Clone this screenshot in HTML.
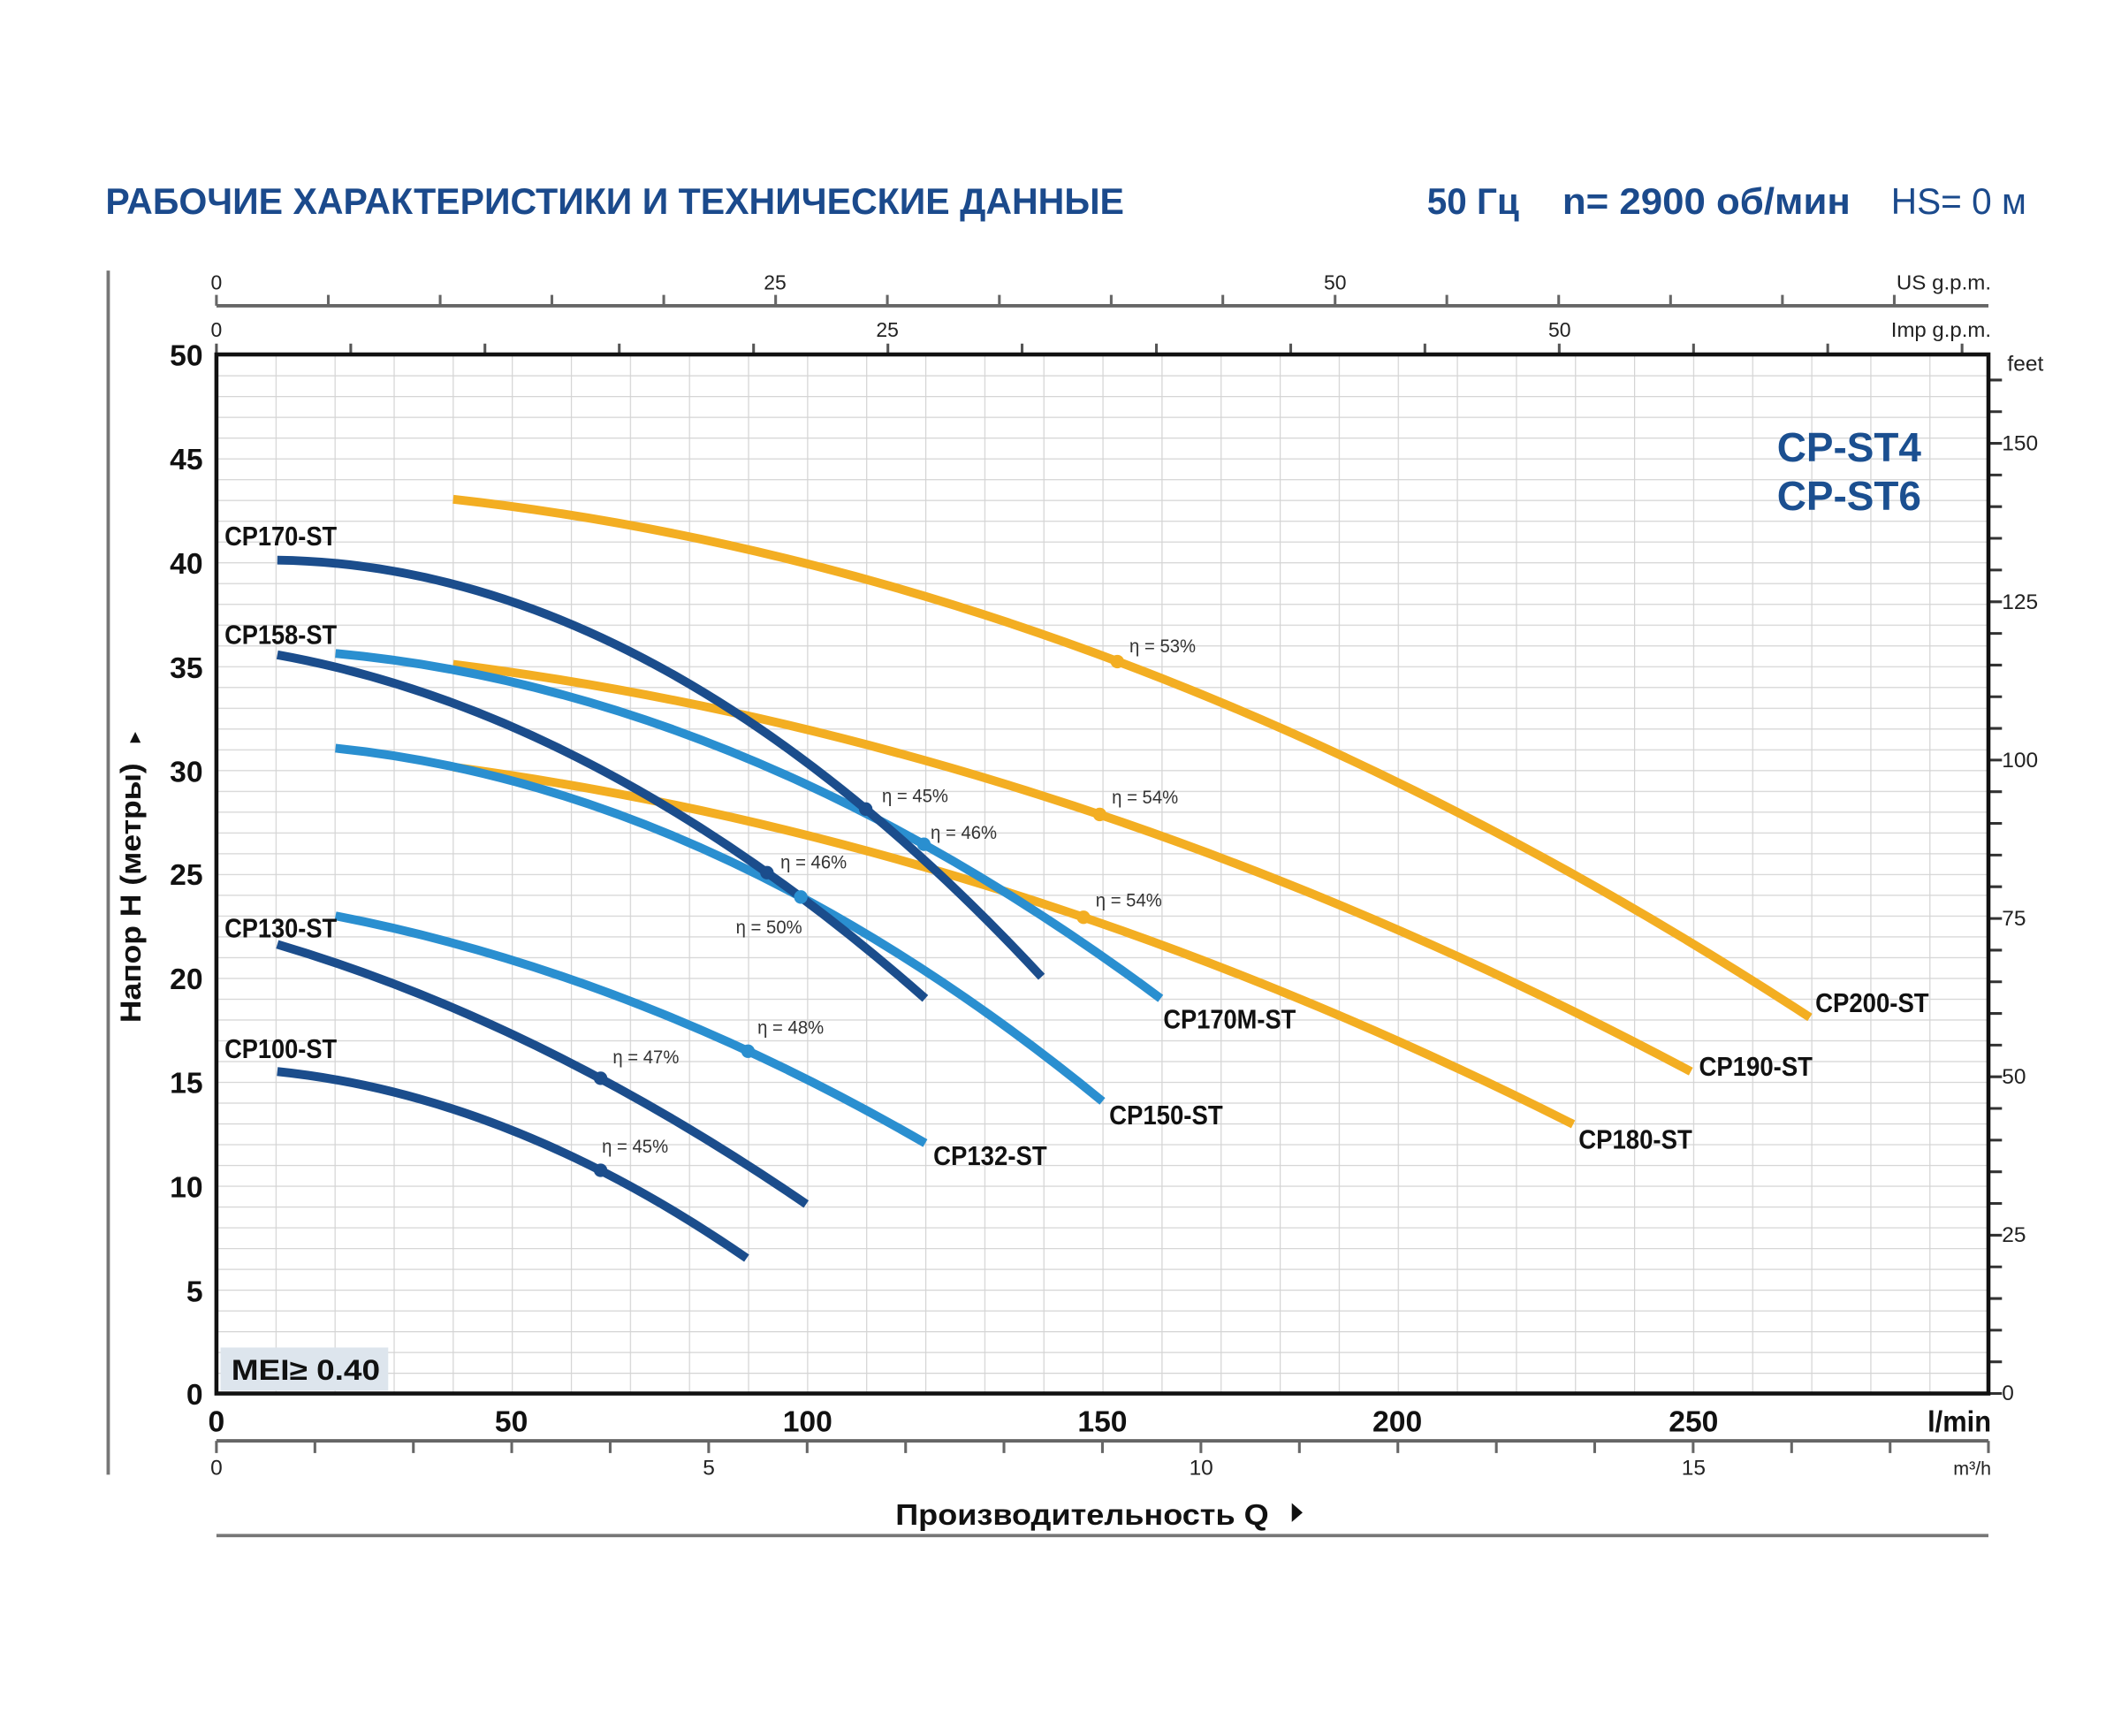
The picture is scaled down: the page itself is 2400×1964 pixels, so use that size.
<!DOCTYPE html>
<html><head><meta charset="utf-8"><style>
html,body{margin:0;padding:0;background:#fff}
svg{display:block}
text{font-family:"Liberation Sans",sans-serif}
.n{font-family:"Liberation Sans Narrow","Liberation Sans",sans-serif}
</style></head><body>
<svg width="2400" height="1964" viewBox="0 0 1568 1283.15" xmlns="http://www.w3.org/2000/svg">
<defs>
<pattern id="g" patternUnits="userSpaceOnUse" x="160" y="262" width="43.667" height="15.36">
<path d="M0 0V15.36M0 0H43.667" stroke="#d4d4d4" stroke-width="1.6" fill="none"/>
</pattern>
</defs>
<rect width="1568" height="1284" fill="#fff"/>
<!-- header -->
<text x="78" y="158" font-size="27" font-weight="bold" fill="#1b4a8c" textLength="753" lengthAdjust="spacingAndGlyphs">РАБОЧИЕ ХАРАКТЕРИСТИКИ И ТЕХНИЧЕСКИЕ ДАННЫЕ</text>
<text x="1055" y="158" font-size="27" font-weight="bold" fill="#1b4a8c" textLength="68" lengthAdjust="spacingAndGlyphs">50 Гц</text>
<text x="1155" y="158" font-size="27" font-weight="bold" fill="#1b4a8c" textLength="213" lengthAdjust="spacingAndGlyphs">n= 2900 об/мин</text>
<text x="1398" y="158" font-size="27" fill="#1b4a8c" textLength="100" lengthAdjust="spacingAndGlyphs">HS= 0 м</text>
<!-- left line -->
<line x1="80" y1="200" x2="80" y2="1090" stroke="#777" stroke-width="2.5"/>
<!-- grid -->
<rect x="160" y="262" width="1310" height="768" fill="url(#g)"/>
<!-- MEI -->
<rect x="163" y="996" width="124" height="32" fill="#dde5ed"/>
<text x="171" y="1020" font-size="21" font-weight="bold" fill="#111" textLength="110" lengthAdjust="spacingAndGlyphs">MEI≥ 0.40</text>
<!-- top axes -->
<path d="M160 226H1470" stroke="#666" stroke-width="2.5"/>
<path d="M160 226v-8M242.7 226v-8M325.4 226v-8M408 226v-8M490.7 226v-8M573.4 226v-8M656 226v-8M738.8 226v-8M821.5 226v-8M904 226v-8M987 226v-8M1069.6 226v-8M1152.3 226v-8M1235 226v-8M1317.7 226v-8M1400.4 226v-8" stroke="#666" stroke-width="2"/>
<g font-size="15" fill="#222" text-anchor="middle">
<text x="160" y="214">0</text><text x="573" y="214">25</text><text x="987" y="214">50</text>
<text x="160" y="249">0</text><text x="656" y="249">25</text><text x="1153" y="249">50</text>
</g>
<text x="1402" y="214" font-size="15" fill="#222" textLength="70" lengthAdjust="spacingAndGlyphs">US g.p.m.</text>
<text x="1398" y="249" font-size="15" fill="#222" textLength="74" lengthAdjust="spacingAndGlyphs">Imp g.p.m.</text>
<path d="M160 262v-8M259.3 262v-8M358.5 262v-8M457.8 262v-8M557.1 262v-8M656.4 262v-8M755.6 262v-8M854.9 262v-8M954.2 262v-8M1053.4 262v-8M1152.7 262v-8M1252 262v-8M1351.2 262v-8M1450.5 262v-8" stroke="#555" stroke-width="2"/>
<!-- right feet ticks -->
<path d="M1470 1030h10M1470 1006.6h10M1470 983.2h10M1470 959.8h10M1470 936.4h10M1470 913h10M1470 889.5h10M1470 866.1h10M1470 842.7h10M1470 819.3h10M1470 795.9h10M1470 772.5h10M1470 749.1h10M1470 725.7h10M1470 702.3h10M1470 678.9h10M1470 655.4h10M1470 632h10M1470 608.6h10M1470 585.2h10M1470 561.8h10M1470 538.4h10M1470 515h10M1470 491.6h10M1470 468.2h10M1470 444.8h10M1470 421.3h10M1470 397.9h10M1470 374.5h10M1470 351.1h10M1470 327.7h10M1470 304.3h10M1470 280.9h10" stroke="#333" stroke-width="2"/>
<g font-size="16" fill="#222">
<text x="1480" y="1035">0</text><text x="1480" y="918">25</text><text x="1480" y="801">50</text><text x="1480" y="684">75</text><text x="1480" y="567">100</text><text x="1480" y="450">125</text><text x="1480" y="333">150</text><text x="1484" y="274">feet</text>
</g>
<!-- bottom m3/h axis -->
<path d="M160 1065H1470" stroke="#666" stroke-width="2.5"/>
<path d="M160 1065v9M232.8 1065v9M305.6 1065v9M378.3 1065v9M451.1 1065v9M523.9 1065v9M596.7 1065v9M669.5 1065v9M742.2 1065v9M815 1065v9M887.8 1065v9M960.6 1065v9M1033.4 1065v9M1106.2 1065v9M1178.9 1065v9M1251.7 1065v9M1324.5 1065v9M1397.3 1065v9M1470 1065v9" stroke="#666" stroke-width="2"/>
<g font-size="16" fill="#222" text-anchor="middle">
<text x="160" y="1090">0</text><text x="524" y="1090">5</text><text x="888" y="1090">10</text><text x="1252" y="1090">15</text>
</g>
<text x="1472" y="1090" font-size="14" fill="#222" text-anchor="end">m³/h</text>
<!-- x labels -->
<g font-size="22" font-weight="bold" fill="#111" text-anchor="middle">
<text x="160" y="1058">0</text><text x="378" y="1058">50</text><text x="597" y="1058">100</text><text x="815" y="1058">150</text><text x="1033" y="1058">200</text><text x="1252" y="1058">250</text>
</g>
<text x="1425" y="1058" font-size="22" font-weight="bold" fill="#111" textLength="47" lengthAdjust="spacingAndGlyphs">l/min</text>
<!-- y labels -->
<g font-size="22" font-weight="bold" fill="#111" text-anchor="end">
<text x="150" y="1038">0</text><text x="150" y="962">5</text><text x="150" y="885">10</text><text x="150" y="808">15</text><text x="150" y="731">20</text><text x="150" y="654">25</text><text x="150" y="578">30</text><text x="150" y="501">35</text><text x="150" y="424">40</text><text x="150" y="347">45</text><text x="150" y="270">50</text>
</g>
<!-- axis titles -->
<text x="662" y="1127" font-size="22" font-weight="bold" fill="#111" textLength="276" lengthAdjust="spacingAndGlyphs">Производительность Q</text>
<path d="M955 1111l8 7-8 7z" fill="#111"/>
<path d="M160 1135H1470" stroke="#777" stroke-width="2.5"/>
<text transform="translate(104 660) rotate(-90)" x="0" y="0" font-size="21" font-weight="bold" fill="#111" text-anchor="middle" textLength="192" lengthAdjust="spacingAndGlyphs">Напор H (метры)</text>
<path d="M96 549h8l-4-8z" fill="#111"/>
<!-- plot frame -->
<rect x="160" y="262" width="1310" height="768" fill="none" stroke="#111" stroke-width="3"/>
<!-- CP-ST -->
<text x="1367" y="341" font-size="30" font-weight="bold" fill="#1b4f90" text-anchor="middle">CP-ST4</text>
<text x="1367" y="377" font-size="30" font-weight="bold" fill="#1b4f90" text-anchor="middle">CP-ST6</text>
<!-- curves -->
<g fill="none" stroke-width="6.5" stroke-linecap="butt">
<path d="M335 369Q836.5 425 1338 752" stroke="#f3ae22"/>
<path d="M335 491Q792.5 549 1250 792" stroke="#f3ae22"/>
<path d="M335 567Q749 622.6 1163 831" stroke="#f3ae22"/>
<path d="M248 483Q553 511 858 738" stroke="#2a8fd0"/>
<path d="M248 553Q531.5 582 815 814" stroke="#2a8fd0"/>
<path d="M248 677Q466 719 684 845" stroke="#2a8fd0"/>
<path d="M205 414Q487.5 418 770 722" stroke="#1b4d8c"/>
<path d="M205 484Q444.5 527 684 738" stroke="#1b4d8c"/>
<path d="M205 698Q400.5 756 596 890" stroke="#1b4d8c"/>
<path d="M205 792Q378.5 810 552 930" stroke="#1b4d8c"/>
</g>
<!-- dots -->
<g>
<circle cx="826" cy="489" r="5" fill="#f3ae22"/>
<circle cx="813" cy="602" r="5" fill="#f3ae22"/>
<circle cx="801" cy="678" r="5" fill="#f3ae22"/>
<circle cx="640" cy="598" r="5" fill="#1b4d8c"/>
<circle cx="683" cy="624" r="5" fill="#2a8fd0"/>
<circle cx="567" cy="645" r="5" fill="#1b4d8c"/>
<circle cx="592" cy="663" r="5" fill="#2a8fd0"/>
<circle cx="553" cy="777" r="5" fill="#2a8fd0"/>
<circle cx="444" cy="797" r="5" fill="#1b4d8c"/>
<circle cx="444" cy="865" r="5" fill="#1b4d8c"/>
</g>
<!-- eta labels -->
<g font-size="14" fill="#333">
<text x="835" y="482" textLength="49" lengthAdjust="spacingAndGlyphs">η = 53%</text>
<text x="822" y="594" textLength="49" lengthAdjust="spacingAndGlyphs">η = 54%</text>
<text x="810" y="670" textLength="49" lengthAdjust="spacingAndGlyphs">η = 54%</text>
<text x="652" y="593" textLength="49" lengthAdjust="spacingAndGlyphs">η = 45%</text>
<text x="688" y="620" textLength="49" lengthAdjust="spacingAndGlyphs">η = 46%</text>
<text x="577" y="642" textLength="49" lengthAdjust="spacingAndGlyphs">η = 46%</text>
<text x="544" y="690" textLength="49" lengthAdjust="spacingAndGlyphs">η = 50%</text>
<text x="560" y="764" textLength="49" lengthAdjust="spacingAndGlyphs">η = 48%</text>
<text x="453" y="786" textLength="49" lengthAdjust="spacingAndGlyphs">η = 47%</text>
<text x="445" y="852" textLength="49" lengthAdjust="spacingAndGlyphs">η = 45%</text>
</g>
<!-- curve labels -->
<g font-size="20" font-weight="bold" fill="#111">
<text x="166" y="403" textLength="83" lengthAdjust="spacingAndGlyphs">CP170-ST</text>
<text x="166" y="476" textLength="83" lengthAdjust="spacingAndGlyphs">CP158-ST</text>
<text x="166" y="693" textLength="83" lengthAdjust="spacingAndGlyphs">CP130-ST</text>
<text x="166" y="782" textLength="83" lengthAdjust="spacingAndGlyphs">CP100-ST</text>
<text x="860" y="760" textLength="98" lengthAdjust="spacingAndGlyphs">CP170M-ST</text>
<text x="820" y="831" textLength="84" lengthAdjust="spacingAndGlyphs">CP150-ST</text>
<text x="690" y="861" textLength="84" lengthAdjust="spacingAndGlyphs">CP132-ST</text>
<text x="1167" y="849" textLength="84" lengthAdjust="spacingAndGlyphs">CP180-ST</text>
<text x="1256" y="795" textLength="84" lengthAdjust="spacingAndGlyphs">CP190-ST</text>
<text x="1342" y="748" textLength="84" lengthAdjust="spacingAndGlyphs">CP200-ST</text>
</g>
</svg>
</body></html>
